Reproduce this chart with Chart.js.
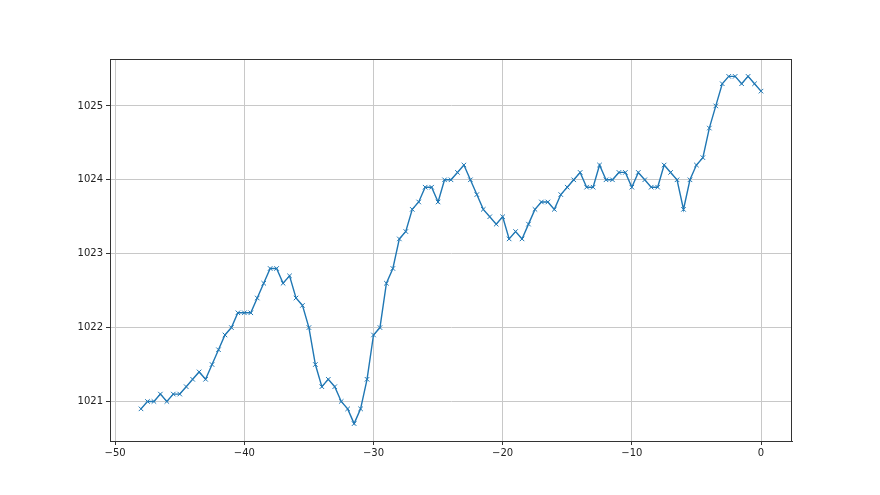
<!DOCTYPE html>
<html>
<head>
<meta charset="utf-8">
<script src="https://cdn.jsdelivr.net/npm/chart.js@4/dist/chart.umd.min.js"></script>
<style>
  html, body { margin: 0; padding: 0; background: #fff; }
  #wrap { width: 880px; height: 495px; }
</style>
</head>
<body>
<div id="wrap"><canvas id="myChart" width="880" height="495"></canvas></div>
<script>
// hours relative to now
var hours = [
    -48, -47.5, -47, -46.5, -46, -45.5, -45, -44.5, -44, -43.5,
    -43, -42.5, -42, -41.5, -41, -40.5, -40, -39.5, -39, -38.5,
    -38, -37.5, -37, -36.5, -36, -35.5, -35, -34.5, -34, -33.5,
    -33, -32.5, -32, -31.5, -31, -30.5, -30, -29.5, -29, -28.5,
    -28, -27.5, -27, -26.5, -26, -25.5, -25, -24.5, -24, -23.5,
    -23, -22.5, -22, -21.5, -21, -20.5, -20, -19.5, -19, -18.5,
    -18, -17.5, -17, -16.5, -16, -15.5, -15, -14.5, -14, -13.5,
    -13, -12.5, -12, -11.5, -11, -10.5, -10, -9.5, -9, -8.5,
    -8, -7.5, -7, -6.5, -6, -5.5, -5, -4.5, -4, -3.5,
    -3, -2.5, -2, -1.5, -1, -0.5, 0
];
// pressure readings
var pressure = [
    1020.9, 1021.0, 1021.0, 1021.1, 1021.0, 1021.1, 1021.1, 1021.2, 1021.3, 1021.4,
    1021.3, 1021.5, 1021.7, 1021.9, 1022.0, 1022.2, 1022.2, 1022.2, 1022.4, 1022.6,
    1022.8, 1022.8, 1022.6, 1022.7, 1022.4, 1022.3, 1022.0, 1021.5, 1021.2, 1021.3,
    1021.2, 1021.0, 1020.9, 1020.7, 1020.9, 1021.3, 1021.9, 1022.0, 1022.6, 1022.8,
    1023.2, 1023.3, 1023.6, 1023.7, 1023.9, 1023.9, 1023.7, 1024.0, 1024.0, 1024.1,
    1024.2, 1024.0, 1023.8, 1023.6, 1023.5, 1023.4, 1023.5, 1023.2, 1023.3, 1023.2,
    1023.4, 1023.6, 1023.7, 1023.7, 1023.6, 1023.8, 1023.9, 1024.0, 1024.1, 1023.9,
    1023.9, 1024.2, 1024.0, 1024.0, 1024.1, 1024.1, 1023.9, 1024.1, 1024.0, 1023.9,
    1023.9, 1024.2, 1024.1, 1024.0, 1023.6, 1024.0, 1024.2, 1024.3, 1024.7, 1025.0,
    1025.3, 1025.4, 1025.4, 1025.3, 1025.4, 1025.3, 1025.2
];
var xTicks = [-50, -40, -30, -20, -10, 0];
var yTicks = [1021, 1022, 1023, 1024, 1025];

document.addEventListener('DOMContentLoaded', function () {
    var points = hours.map(function (h, i) { return { x: h, y: pressure[i] }; });

    // draws the top/right spines like matplotlib's box
    var frame = {
        id: 'frame',
        afterDraw: function (chart) {
            var a = chart.chartArea, c = chart.ctx;
            c.save();
            c.strokeStyle = '#333';
            c.lineWidth = 1;
            c.strokeRect(a.left + 0.5, a.top + 0.5, a.right - a.left - 1, a.bottom - a.top);
            c.restore();
        }
    };

    var ctx = document.getElementById('myChart').getContext('2d');
    new Chart(ctx, {
        type: 'line',
        data: {
            datasets: [{
                data: points,
                borderColor: '#1f77b4',
                backgroundColor: '#1f77b4',
                borderWidth: 1.4,
                pointStyle: 'crossRot',
                pointRadius: 3.2,
                pointBorderWidth: 1,
                pointBorderColor: '#1f77b4',
                tension: 0,
                fill: false
            }]
        },
        plugins: [frame],
        options: {
            responsive: false,
            animation: false,
            layout: { padding: { left: 0, top: 59, right: 88, bottom: 0 } },
            plugins: { legend: { display: false }, tooltip: { enabled: false } },
            scales: {
                x: {
                    type: 'linear',
                    min: -50.4,
                    max: 2.4,
                    afterBuildTicks: function (s) { s.ticks = xTicks.map(function (v) { return { value: v }; }); },
                    afterFit: function (s) { s.height = 54; },
                    grid: { color: '#c8c8c8', lineWidth: 1, tickColor: '#333', tickLength: 4 },
                    border: { color: '#333' },
                    ticks: {
                        color: '#222',
                        font: { family: 'DejaVu Sans', size: 10 },
                        padding: 2,
                        maxRotation: 0,
                        callback: function (v) { return v < 0 ? '\u2212' + Math.abs(v) : String(v); }
                    }
                },
                y: {
                    min: 1020.465,
                    max: 1025.635,
                    afterBuildTicks: function (s) { s.ticks = yTicks.map(function (v) { return { value: v }; }); },
                    afterFit: function (s) { s.width = 110; },
                    grid: { color: '#c8c8c8', lineWidth: 1, tickColor: '#333', tickLength: 4 },
                    border: { color: '#333' },
                    ticks: {
                        color: '#222',
                        font: { family: 'DejaVu Sans', size: 10 },
                        padding: 3,
                        callback: function (v) { return String(v); }
                    }
                }
            }
        }
    });
});
</script>
</body>
</html>
